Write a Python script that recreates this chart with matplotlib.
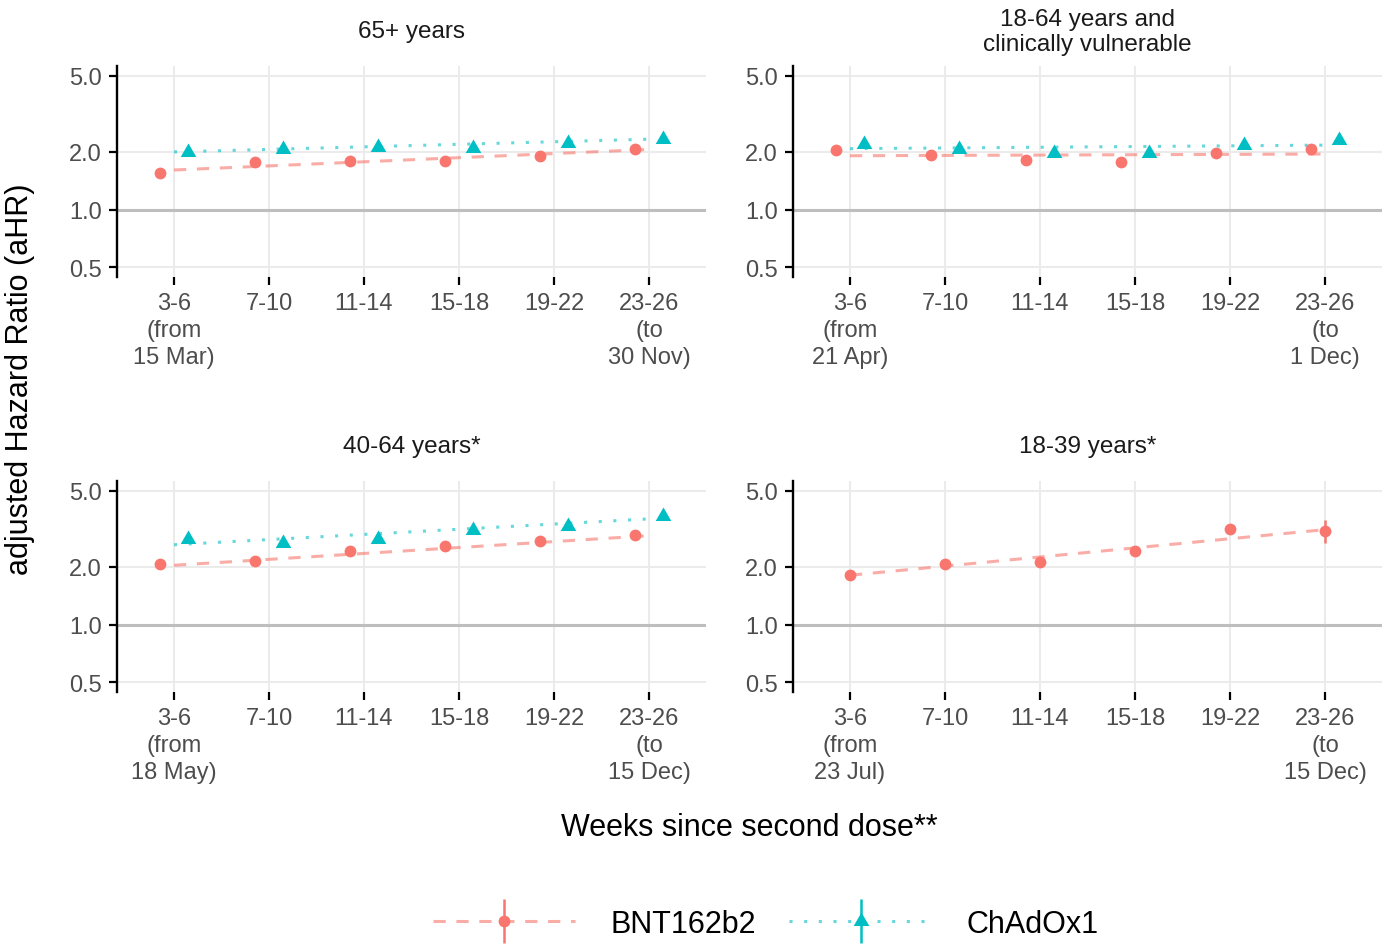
import numpy as np
import matplotlib.pyplot as plt
from matplotlib.lines import Line2D
from matplotlib.path import Path
from matplotlib.legend_handler import HandlerTuple

plt.rcParams['font.family'] = ['Liberation Sans', 'DejaVu Sans']

# ---- data ----
weeks = ["3-6", "7-10", "11-14", "15-18", "19-22", "23-26"]
panel_titles = ["65+ years", "18-64 years and\nclinically vulnerable",
                "40-64 years*", "18-39 years*"]
first_dates = ["15 Mar", "21 Apr", "18 May", "23 Jul"]
last_dates = ["30 Nov", "1 Dec", "15 Dec", "15 Dec"]

bnt_ahr = [[1.55, 1.77, 1.80, 1.80, 1.90, 2.06],
           [2.04, 1.93, 1.82, 1.77, 1.98, 2.08],
           [2.08, 2.15, 2.42, 2.58, 2.74, 2.93],
           [1.82, 2.08, 2.12, 2.41, 3.15, 3.06]]
bnt_lo = [[1.50, 1.72, 1.75, 1.74, 1.83, 1.97],
          [1.98, 1.87, 1.76, 1.70, 1.90, 1.98],
          [2.03, 2.10, 2.36, 2.51, 2.65, 2.80],
          [1.76, 2.02, 2.05, 2.32, 3.00, 2.66]]
bnt_hi = [[1.60, 1.82, 1.85, 1.86, 1.97, 2.15],
          [2.10, 1.99, 1.88, 1.84, 2.06, 2.18],
          [2.13, 2.20, 2.48, 2.65, 2.83, 3.07],
          [1.88, 2.14, 2.19, 2.50, 3.31, 3.53]]

chad_ahr = [[2.00, 2.08, 2.12, 2.09, 2.23, 2.34],
            [2.21, 2.08, 1.97, 1.98, 2.17, 2.30],
            [2.78, 2.67, 2.80, 3.10, 3.27, 3.69],
            None]
chad_lo = [[1.96, 2.04, 2.08, 2.04, 2.17, 2.25],
           [2.14, 2.02, 1.91, 1.91, 2.09, 2.19],
           [2.72, 2.61, 2.73, 3.02, 3.17, 3.52],
           None]
chad_hi = [[2.04, 2.12, 2.16, 2.14, 2.29, 2.43],
           [2.28, 2.14, 2.03, 2.05, 2.25, 2.41],
           [2.84, 2.73, 2.87, 3.18, 3.37, 3.86],
           None]

# fitted trend lines, value at first and last week band
bnt_trend = [(1.61, 2.06), (1.91, 1.95), (2.04, 2.91), (1.81, 3.13)]
chad_trend = [(2.00, 2.33), (2.08, 2.17), (2.61, 3.56), None]

y_ticks = [0.5, 1.0, 2.0, 5.0]

RED = "#F8766D"
BLUE = "#00BFC4"
GRID = "#EBEBEB"
W, H = 1389, 945
DASH = (0, (4, 3.5))
DOT = (0, (1, 3.8))

# triangle centred on its centroid (like R pch 17)
tri = Path([(0, 1.555), (-1.3468, -0.7776), (1.3468, -0.7776), (0, 1.555)],
           [Path.MOVETO, Path.LINETO, Path.LINETO, Path.CLOSEPOLY])

fig = plt.figure(figsize=(W / 100, H / 100), dpi=100)

lefts = [117, 793]
tops = [67, 482]
pw, ph = 589, 211
x = np.arange(1, len(weeks) + 1)
dodge = 0.15

for i in range(4):
    r, c = divmod(i, 2)
    ax = fig.add_axes([lefts[c] / W, 1 - (tops[r] + ph) / H, pw / W, ph / H])
    ax.set_yscale('log')
    ax.set_xlim(0.4, 6.6)
    lo_lim, hi_lim = np.log10(0.5), np.log10(5.0)
    pad = (hi_lim - lo_lim) * 0.05
    ax.set_ylim(10 ** (lo_lim - pad), 10 ** (hi_lim + pad))

    ax.set_yticks(y_ticks)
    ax.set_yticklabels([f"{v:.1f}" for v in y_ticks])
    ax.yaxis.set_minor_locator(plt.NullLocator())
    ax.set_xticks(x)
    labels = list(weeks)
    labels[0] = f"{weeks[0]}\n(from\n{first_dates[i]})"
    labels[-1] = f"{weeks[-1]}\n(to\n{last_dates[i]})"
    ax.set_xticklabels(labels)
    for lbl in ax.get_xticklabels():
        lbl.set_linespacing(1.3)

    ax.grid(True, color=GRID, lw=1.5, zorder=0)
    ax.set_axisbelow(True)
    ax.axhline(1.0, color="#BEBEBE", lw=2.2, zorder=1)

    for s in ["top", "right", "bottom"]:
        ax.spines[s].set_visible(False)
    ax.spines["left"].set_linewidth(1.7)
    ax.spines["left"].set_color("black")
    ax.tick_params(axis='both', length=5.8, width=1.6, color="black",
                   labelsize=17, labelcolor="#4D4D4D", pad=5)

    has_chad = chad_ahr[i] is not None
    off = dodge if has_chad else 0.0

    ax.plot(x[[0, -1]], bnt_trend[i], ls=DASH, color=RED, alpha=0.6,
            lw=2.2, zorder=2)
    b = np.array(bnt_ahr[i])
    ax.errorbar(x - off, b,
                yerr=[b - np.array(bnt_lo[i]), np.array(bnt_hi[i]) - b],
                fmt='o', color=RED, ms=8.5, mec='none', elinewidth=1.8,
                capsize=0, zorder=3)

    if has_chad:
        ax.plot(x[[0, -1]], chad_trend[i], ls=DOT, color=BLUE,
                alpha=0.6, lw=2.2, zorder=2)
        cv = np.array(chad_ahr[i])
        ax.errorbar(x + off, cv,
                    yerr=[cv - np.array(chad_lo[i]), np.array(chad_hi[i]) - cv],
                    fmt='none', ecolor=BLUE, elinewidth=1.8, capsize=0, zorder=3)
        ax.plot(x + off, cv, ls='none', marker=tri, ms=13, color=BLUE,
                mec='none', zorder=4)

    ax.annotate(panel_titles[i], xy=(0.5, 1), xycoords='axes fraction',
                xytext=(0, 25), textcoords='offset points', ha='center',
                va='center', fontsize=17.5, color="#1A1A1A", linespacing=1.2)

fig.text(20 / W, 1 - 379 / H, "adjusted Hazard Ratio (aHR)", rotation=90,
         ha='center', va='center', fontsize=22, color="black")
fig.text(749 / W, 1 - 828 / H, "Weeks since second dose**", ha='center',
         va='center', fontsize=22, color="black")

h_bnt = (Line2D([], [], ls=DASH, color=RED, alpha=0.6, lw=2.2),
         Line2D([], [], ls='none', marker='|', ms=32, mew=1.8, color=RED),
         Line2D([], [], ls='none', marker='o', ms=8.5, mec='none', color=RED))
h_chad = (Line2D([], [], ls=DOT, color=BLUE, alpha=0.6, lw=2.2),
          Line2D([], [], ls='none', marker='|', ms=32, mew=1.8, color=BLUE),
          Line2D([], [], ls='none', marker=tri, ms=13, color=BLUE, mec='none'))
fig.legend([h_bnt, h_chad], ["BNT162b2", "ChAdOx1"],
           handler_map={tuple: HandlerTuple(ndivide=1)},
           loc='center', bbox_to_anchor=(766 / W, 1 - 925 / H), ncol=2,
           frameon=False, fontsize=22, handlelength=4.65, handletextpad=1.15,
           columnspacing=1.1)

fig.savefig("out.png", dpi=100)
